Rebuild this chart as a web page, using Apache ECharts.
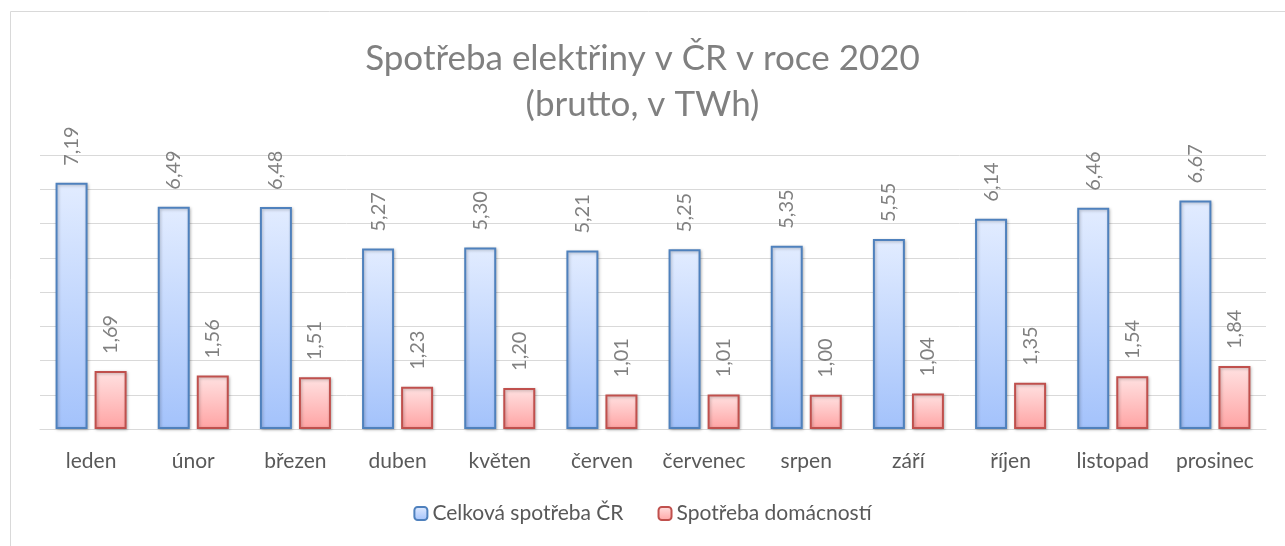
<!DOCTYPE html>
<html>
<head>
<meta charset="utf-8">
<script src="https://cdn.jsdelivr.net/npm/echarts@6/dist/echarts.min.js"></script>
<style>
  html, body { margin: 0; padding: 0; background: #fff; }
  #chart { width: 1285px; height: 546px; }
</style>
</head>
<body>
<div id="chart"></div>
<script>
var months = ['leden', 'únor', 'březen', 'duben', 'květen', 'červen', 'červenec', 'srpen', 'září', 'říjen', 'listopad', 'prosinec'];
var celkova = [7.19, 6.49, 6.48, 5.27, 5.30, 5.21, 5.25, 5.35, 5.55, 6.14, 6.46, 6.67];
var domacnosti = [1.69, 1.56, 1.51, 1.23, 1.20, 1.01, 1.01, 1.00, 1.04, 1.35, 1.54, 1.84];

var font = 'Lato, "Open Sans", sans-serif';

function grad(top, bottom) {
    return new echarts.graphic.LinearGradient(0, 0, 0, 1, [
        { offset: 0, color: top },
        { offset: 1, color: bottom }
    ]);
}

var labelOpt = {
    show: true,
    position: 'top',
    rotate: 90,
    align: 'left',
    verticalAlign: 'middle',
    distance: 17,
    color: '#808080',
    fontSize: 20,
    fontFamily: font,
    formatter: function (p) { return p.value.toFixed(2).replace('.', ','); }
};

var myChart = echarts.init(document.getElementById('chart'));
var option = {
    animation: false,
    graphic: [{
        type: 'rect',
        shape: { x: 10.5, y: 11.5, width: 1400, height: 700 },
        style: { fill: 'none', stroke: '#d9d9d9', lineWidth: 1 },
        silent: true
    }],
    title: {
        text: 'Spotřeba elektřiny v ČR v roce 2020\n(brutto, v TWh)',
        left: 'center',
        top: 31,
        textStyle: {
            color: '#808080',
            fontSize: 35,
            fontWeight: 'normal',
            fontFamily: font,
            lineHeight: 46
        }
    },
    legend: {
        bottom: 17,
        left: 'center',
        itemWidth: 13,
        itemHeight: 13,
        itemGap: 34,
        textStyle: { color: '#595959', fontSize: 21, fontFamily: font },
        data: ['Celková spotřeba ČR', 'Spotřeba domácností']
    },
    grid: { left: 40, right: 19, top: 155, bottom: 117 },
    xAxis: {
        type: 'category',
        data: months,
        axisLine: { lineStyle: { color: '#d9d9d9' } },
        axisTick: { show: false },
        axisLabel: { color: '#595959', fontSize: 21, fontFamily: font, margin: 22, interval: 0 }
    },
    yAxis: {
        type: 'value',
        min: 0,
        max: 8,
        interval: 1,
        axisLabel: { show: false },
        axisLine: { show: false },
        axisTick: { show: false },
        splitLine: { lineStyle: { color: '#d9d9d9' } }
    },
    series: [{
        name: 'Celková spotřeba ČR',
        type: 'bar',
        barWidth: 32,
        barGap: '22%',
        data: celkova,
        label: labelOpt,
        itemStyle: {
            color: grad('#e2ecff', '#a3c2fb'),
            borderColor: '#4f81bd',
            borderWidth: 2,
            shadowColor: 'rgba(0,0,0,0.25)',
            shadowBlur: 3,
            shadowOffsetX: 1,
            shadowOffsetY: 1
        }
    }, {
        name: 'Spotřeba domácností',
        type: 'bar',
        barWidth: 32,
        data: domacnosti,
        label: labelOpt,
        itemStyle: {
            color: grad('#ffe2e2', '#ffa3a3'),
            borderColor: '#c0504d',
            borderWidth: 2,
            shadowColor: 'rgba(0,0,0,0.25)',
            shadowBlur: 3,
            shadowOffsetX: 1,
            shadowOffsetY: 1
        }
    }]
};
option && myChart.setOption(option);
</script>
</body>
</html>
